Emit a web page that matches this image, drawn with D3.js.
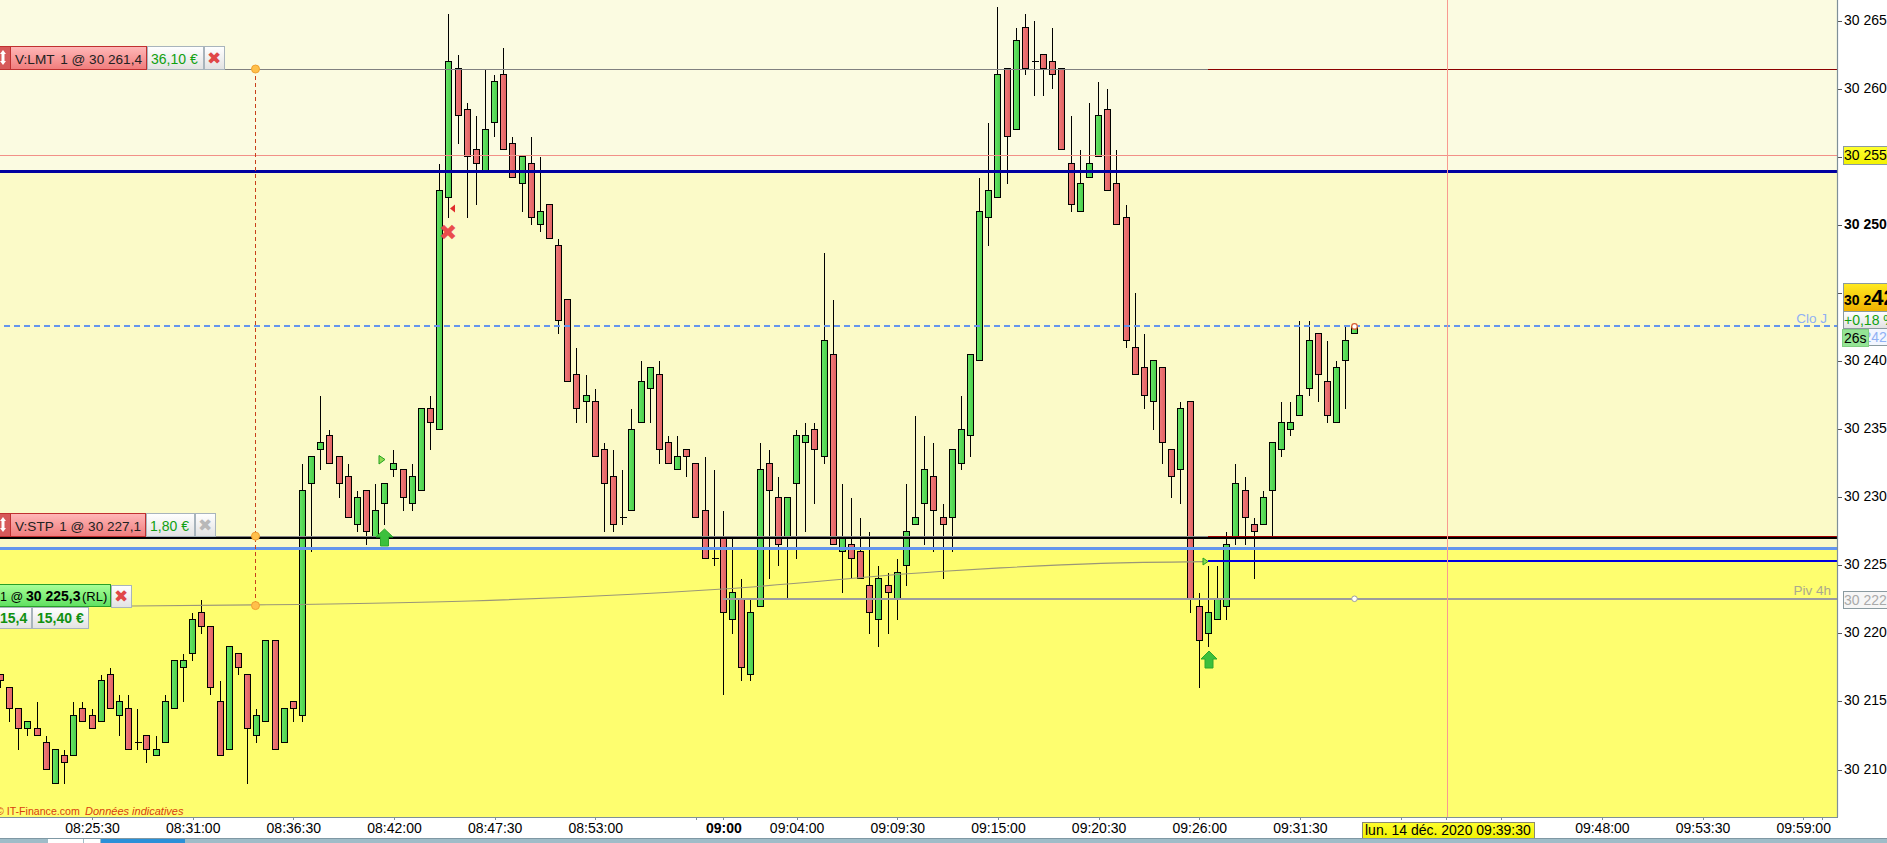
<!DOCTYPE html>
<html><head><meta charset="utf-8">
<script src="https://cdn.jsdelivr.net/npm/d3@7/dist/d3.min.js"></script>
<style>
html,body{margin:0;padding:0;background:#fff;overflow:hidden}
svg{display:block}
text{font-family:"Liberation Sans",Arial,sans-serif;font-size:14px}
</style></head><body><svg id="c" width="1887" height="843"></svg>
<script>
const W=1887,H=843,axisX=1837,axisY=817;
// Candles, one every 30 s starting 08:20:30
const firstBar="08:20:30";
const barStepSeconds=30;
const opens=[30217,30216,30214.5,30213,30213,30212,30209,30211,30211,30214.5,30214,30213.5,30217,30214,30214.5,30212,30212.5,30211,30212,30214.5,30217.5,30218.5,30221.5,30220.5,30215,30211.5,30218.5,30217,30212.5,30213.5,30219.5,30212,30215,30214,30231,30233.5,30234.5,30233,30231.5,30228,30230.5,30227,30229.5,30232,30232,30229.5,30230.5,30236.5,30235,30252,30261.5,30258.5,30255.5,30254,30257.5,30261,30256,30253,30254.5,30250,30251.5,30248.5,30244.5,30239,30237,30237,30233.5,30231.5,30228.5,30229,30235.5,30238,30239,30234,30232,30233.5,30232.5,30229,30225.5,30227,30221,30222.5,30217,30222,30232.5,30230,30227,30231,30234,30235,30233,30240.5,30226,30226.5,30226,30223.5,30221,30223.5,30222.5,30225,30228,30229.5,30231.5,30228.5,30228.5,30232.5,30234.5,30240,30250.5,30252,30261.5,30257,30264.5,30262,30262.5,30262,30261.5,30254.5,30251,30253.5,30255,30258.5,30253,30250.5,30241,30239.5,30237,30239.5,30233.5,30232,30237,30222,30220,30221,30222,30227,30230.5,30228,30228,30230.5,30233.5,30235,30236,30238,30242,30238.5,30235.5,30240,30242];
const closes=[30216.5,30214.5,30213,30213.5,30212.5,30210,30211.5,30210.5,30214,30213.5,30213,30216.5,30214.5,30215,30211.5,30212,30211.5,30211.5,30215,30218,30218,30221,30220.5,30216,30211,30219,30217.5,30213,30214,30219.5,30211.5,30214.5,30214.5,30230.5,30233,30234,30232.5,30231,30228.5,30230,30227.5,30229,30231,30232.5,30230,30231.5,30236.5,30235.5,30252.5,30262,30258,30255,30254.5,30257,30260.5,30255.5,30253.5,30255,30250.5,30251,30249,30243,30238.5,30236.5,30237.5,30233,30231,30228,30228.5,30235,30238.5,30239.5,30233.5,30232.5,30233,30233,30228.5,30225.5,30225.5,30221.5,30223,30217.5,30221.5,30232,30230.5,30226.5,30230,30234.5,30234.5,30233.5,30241.5,30226.5,30227,30225.5,30224,30221.5,30224,30223,30224.5,30227.5,30228.5,30232,30229,30228,30233.5,30235,30240.5,30251,30252.5,30261,30256.5,30263.5,30261.5,30262,30261.5,30261,30255.5,30251.5,30253,30254.5,30258,30252.5,30250,30241.5,30239,30237.5,30240,30234,30231.5,30236.5,30222.5,30219.5,30221.5,30222.5,30226.5,30231,30228.5,30227.5,30230,30234,30235.5,30235.5,30237.5,30241.5,30239,30236,30239.5,30241.5,30242.5];
const highs=[30217,30216,30214.5,30213.5,30215,30212.5,30211.5,30211.5,30215,30215,30214.5,30217,30217.5,30215.5,30215.5,30214.5,30212.5,30212.5,30215.5,30218,30218.5,30221.5,30222.5,30220.5,30216.5,30219,30218.5,30217,30214.5,30219.5,30219.5,30214.5,30215,30232.5,30233,30237.5,30235,30233,30232.5,30230.5,30230.5,30231,30231,30233.5,30232,30232.5,30236.5,30237.5,30254.5,30265.5,30262.5,30259,30258,30261.5,30261,30263,30256.5,30255,30256.5,30255,30251.5,30249,30244.5,30241,30239,30238,30234,30233.5,30232,30236.5,30240,30239.5,30240,30234.5,30234.5,30233.5,30232.5,30233,30232,30229,30227,30224,30222.5,30234,30233.5,30231.5,30230,30235,30235.5,30235.5,30248,30244.5,30231,30230,30228.5,30227.5,30225,30224.5,30225.5,30231,30236,30234.5,30234,30229.5,30233.5,30237.5,30240.5,30253.5,30257.5,30266,30261.5,30264.5,30265.5,30265,30262.5,30264.5,30261.5,30258,30255.5,30259,30260.5,30260,30255.5,30251.5,30245,30242,30240,30239.5,30233.5,30237,30237,30223,30225,30225,30227.5,30232.5,30231.5,30228.5,30230.5,30234,30237,30237,30243,30243,30242,30241.5,30240,30242.5,30242.5];
const lows=[30216,30213.5,30211.5,30212.5,30212.5,30210,30209,30209,30211,30213.5,30213,30213.5,30214.5,30212.5,30211.5,30211.5,30210.5,30211,30212,30214.5,30215,30218,30220,30215.5,30211,30211.5,30217,30209,30212,30213.5,30211.5,30212,30213.5,30213.5,30226,30232,30232.5,30230,30228.5,30227.5,30226.5,30227,30228,30231.5,30229,30229,30230.5,30233.5,30235,30250.5,30256,30250.5,30251.5,30254,30256.5,30255.5,30253.5,30251,30250,30249.5,30249,30242,30238.5,30235.5,30235.5,30233,30227.5,30227.5,30228,30229,30235.5,30235.5,30232.5,30232.5,30232,30231.5,30228.5,30225.5,30225,30215.5,30220,30216.5,30216.5,30222,30224,30225,30222.5,30225.5,30227.5,30229.5,30232.5,30226.5,30223,30224,30224,30220,30219,30220,30221,30223.5,30228,30226.5,30226,30224,30226,30232,30233,30240,30248.5,30252,30253,30257,30261,30259.5,30259.5,30260,30255.5,30251,30251,30253.5,30255,30252.5,30250,30241,30239,30236.5,30235,30232.5,30230,30229.5,30221.5,30216,30219,30221,30221,30226.5,30226.5,30224,30228,30227,30233,30234.5,30236,30237.5,30237,30235.5,30235.5,30236.5,30242];
// Price levels
const levelLimit=30261.4, levelRed=30255.07, levelBlue=30253.9, levelClose=30242.5, levelStop=30227.1, levelLightBlue=30226.25, levelEntry=30225.3, levelPivot=30222.5;
// Drawn entry curve
const entryTimes=["08:27:40","08:34:26","08:46:11","09:00:00","09:11:50","09:15:10","09:20:40","09:26:15"];
const entryPrices=[30221.97,30222.05,30222.34,30223.22,30224.5,30224.77,30225.1,30225.23];
// Axes
const yTickValues=[30265,30260,30255,30250,30245,30240,30235,30230,30225,30220,30215,30210];
const xTickTimes=["08:25:30","08:31:00","08:36:30","08:42:00","08:47:30","08:53:00","08:58:30","09:00:00","09:04:00","09:09:30","09:15:00","09:20:30","09:26:00","09:31:30","09:37:00","09:39:30","09:42:30","09:48:00","09:53:30","09:59:00","10:00:00"];
const xUnlabelled=["08:58:30","09:37:00","09:39:30","09:42:30","10:00:00"];

const t=s=>{const [h,m,sec]=s.split(":").map(Number);return new Date(2020,11,14,h,m,sec);};
const barTimes=opens.map((_,i)=>d3.timeSecond.offset(t(firstBar),i*barStepSeconds));
const x=d3.scaleTime().domain([t("08:20:30"),t("09:59:00")]).range([0,1802.7]);
const y=d3.scaleLinear().domain([30265,30210]).range([20,769]);
const X=d=>Math.round(x(d))+0.5, Y=v=>Math.round(y(v))+0.5;

const svg=d3.select("#c");
const defs=svg.append("defs");
function grad(id,a,b){const g=defs.append("linearGradient").attr("id",id).attr("x1",0).attr("x2",0).attr("y1",0).attr("y2",1);
 g.append("stop").attr("offset",0).attr("stop-color",a);g.append("stop").attr("offset",1).attr("stop-color",b);}
grad("gRed","#ffb8b8","#f07c7c");grad("gGreen","#a8ff98","#5fe060");grad("gWhite","#ffffff","#e2e2e2");
grad("gCur","#ffea20","#f0b000");grad("gYel","#ffff30","#f2f200");
const gc=defs.append("linearGradient").attr("id","gBodyG").attr("x1",0).attr("x2",1).attr("y1",0).attr("y2",0);
gc.append("stop").attr("offset",0).attr("stop-color","#68e668");gc.append("stop").attr("offset",1).attr("stop-color","#48cc48");
const gr=defs.append("linearGradient").attr("id","gBodyR").attr("x1",0).attr("x2",1).attr("y1",0).attr("y2",0);
gr.append("stop").attr("offset",0).attr("stop-color","#f07c7c");gr.append("stop").attr("offset",1).attr("stop-color","#e06060");

// Page background and zones
svg.append("rect").attr("width",W).attr("height",H).attr("fill","#fff");
svg.append("rect").attr("width",axisX).attr("height",Y(levelBlue)).attr("fill","#fbfbe1");
svg.append("rect").attr("y",Y(levelBlue)).attr("width",axisX).attr("height",Y(levelLightBlue)-Y(levelBlue)).attr("fill","#fbfac8");
svg.append("rect").attr("y",Y(levelLightBlue)).attr("width",axisX).attr("height",axisY-Y(levelLightBlue)).attr("fill","#fefe6f");

// Candles
const bars=svg.append("g").selectAll("g").data(opens.map((o,i)=>({o,c:closes[i],h:highs[i],l:lows[i],t:barTimes[i]}))).join("g");
bars.append("line").attr("x1",d=>X(d.t)).attr("x2",d=>X(d.t)).attr("y1",d=>Y(d.h)).attr("y2",d=>Y(d.l))
 .attr("stroke","#000").attr("stroke-width",1).attr("shape-rendering","crispEdges");
bars.filter(d=>d.o!==d.c).append("rect").attr("x",d=>X(d.t)-3).attr("width",6)
 .attr("y",d=>Y(Math.max(d.o,d.c))).attr("height",d=>Y(Math.min(d.o,d.c))-Y(Math.max(d.o,d.c)))
 .attr("fill",d=>d.c>d.o?"url(#gBodyG)":"url(#gBodyR)").attr("stroke","#000").attr("stroke-width",1.1).attr("shape-rendering","crispEdges");
bars.filter(d=>d.o===d.c).append("line").attr("x1",d=>X(d.t)-3).attr("x2",d=>X(d.t)+4).attr("y1",d=>Y(d.o)).attr("y2",d=>Y(d.o))
 .attr("stroke","#000").attr("shape-rendering","crispEdges");

// Horizontal levels
const hl=(x1,x2,v,col,w,dash,dy=0)=>svg.append("line").attr("x1",x1).attr("x2",x2).attr("y1",Y(v)+dy).attr("y2",Y(v)+dy)
 .attr("stroke",col).attr("stroke-width",w).attr("stroke-dasharray",dash||null).attr("shape-rendering","crispEdges");
const splitX=1208;
hl(225,splitX,levelLimit,"#808080",1);
hl(splitX,axisX,levelLimit,"#8b0000",1);
hl(0,axisX,levelRed,"#f29088",1);
hl(0,axisX,levelBlue,"#0000a0",3);
hl(4,axisX,levelClose,"#6495ed",2,"6 4",-0.5);
hl(0,axisX,levelStop,"#000",2,null,1);
hl(0,splitX,levelStop,"#8a8a8a",1,null,-0.5);
hl(splitX,axisX,levelStop,"#a00000",1,null,-0.5);
hl(0,axisX,levelLightBlue,"#6495ed",3);
hl(splitX,axisX,levelEntry,"#0000e0",2,null,-0.5);
hl(x(t("09:00:00")),axisX,levelPivot,"#9c9c9c",2,null,-0.5);
// Entry curve
const line=d3.line().x((d,i)=>x(t(entryTimes[i]))).y(d=>y(d)).curve(d3.curveMonotoneX);
svg.append("path").attr("d",line(entryPrices)).attr("fill","none").attr("stroke","#9a9678").attr("stroke-width",1.1);

// Crosshair
const crossX=X(t("09:39:30"))+1;
svg.append("line").attr("x1",crossX).attr("x2",crossX).attr("y1",0).attr("y2",axisY).attr("stroke","#f89a90").attr("stroke-width",1).attr("shape-rendering","crispEdges");
// Vertical dashed link
const linkX=255.5;
svg.append("line").attr("x1",linkX).attr("x2",linkX).attr("y1",y(levelLimit)).attr("y2",y(30222)).attr("stroke","#c8401a").attr("stroke-width",1).attr("stroke-dasharray","4 3").attr("shape-rendering","crispEdges");
[levelLimit,levelStop,30222].forEach(v=>svg.append("circle").attr("cx",linkX).attr("cy",y(v)).attr("r",4).attr("fill","#ffc04a").attr("stroke","#f0a030").attr("stroke-width",1));

// Level captions
const txt=(px,py,s,o={})=>svg.append("text").attr("x",px).attr("y",py).text(s)
 .attr("fill",o.fill||"#000").attr("font-weight",o.bold?"bold":null).attr("font-style",o.italic?"italic":null)
 .attr("text-anchor",o.anchor||"start").style("font-size",(o.size||14)+"px").style("font-family",o.family||null);
txt(1827,323,"Clo J",{fill:"#8fb0f4",anchor:"end",size:13.5});
txt(1831,595,"Piv 4h",{fill:"#aaa98e",anchor:"end",size:13.5});
txt(-4,815,"© IT-Finance.com",{fill:"#d8400e",size:10.6});
txt(85,815,"Données indicatives",{fill:"#d8400e",size:11,italic:true});

// Markers
const mark=(d,col,stroke)=>svg.append("path").attr("d",d).attr("fill",col).attr("stroke",stroke||"none");
txt(448,240,"✖",{fill:"#ea4c4c",anchor:"middle",size:22,family:"DejaVu Sans"});
mark("M450,208.5L455,204.5V212.5Z","#e02c2c");
mark("M379,455.5L385,459.5L379,464Z","#8fdc50","#22a022");
mark("M384.5,529L393,537H388.5V546H380.5V537H376Z","#3cc03c","#2ca82c");
mark("M1209,651L1217,659H1213V668H1205V659H1201Z","#3cc03c","#2ca82c");
mark("M1203,558L1208,561.5L1203,565Z","#8fdc50","#22a022");
svg.append("circle").attr("cx",X(barTimes[barTimes.length-1])).attr("cy",y(levelClose)).attr("r",2.8).attr("fill","#fff").attr("stroke","#d85a30").attr("stroke-width",1.2);
svg.append("circle").attr("cx",X(barTimes[barTimes.length-1])).attr("cy",y(levelPivot)).attr("r",2.8).attr("fill","#fff").attr("stroke","#9c9c9c").attr("stroke-width",1);

// Order tags
function box(x0,y0,w,h,fill,stroke){return svg.append("rect").attr("x",x0+.5).attr("y",y0+.5).attr("width",w).attr("height",h).attr("fill",fill).attr("stroke",stroke).attr("shape-rendering","crispEdges");}
function handle(y0){
 box(-1,y0,11,23,"#d65a5a","#c03030");
 mark(`M3,${y0+4}L6,${y0+8}H4.5V${y0+15}H6L3,${y0+19}L0,${y0+15}H1.5V${y0+8}H0Z`,"#fff");
}
box(10,46,136,23,"url(#gRed)","#c03030");handle(46);
txt(15,64,"V:LMT",{size:13.6,fill:"#222"});txt(142,64,"1 @ 30 261,4",{size:13.6,fill:"#222",anchor:"end"});
box(147,46,56,23,"url(#gWhite)","#a8b4bc");txt(151,64,"36,10 €",{fill:"#10a010"});
box(204,46,20,23,"url(#gWhite)","#a8b4bc");txt(214,64,"✖",{fill:"#e04848",anchor:"middle",size:17,family:"DejaVu Sans"});
box(10,513,135,23,"url(#gRed)","#c03030");handle(513);
txt(15,531,"V:STP",{size:13.6,fill:"#222"});txt(141,531,"1 @ 30 227,1",{size:13.6,fill:"#222",anchor:"end"});
box(146,513,48,23,"url(#gWhite)","#a8b4bc");txt(150,531,"1,80 €",{fill:"#10a010"});
box(195,513,20,23,"url(#gWhite)","#a8b4bc");txt(205,531,"✖",{fill:"#b8b8b8",anchor:"middle",size:17,family:"DejaVu Sans"});
box(-2,584,112,22,"url(#gGreen)","#28a028");
txt(0,601,"1 @",{size:12.5});txt(26,601,"30 225,3",{bold:true});txt(82,601,"(RL)",{size:13});
box(111,585,20,22,"url(#gWhite)","#a8b4bc");txt(121,602,"✖",{fill:"#e04848",anchor:"middle",size:17,family:"DejaVu Sans"});
box(-2,607,33,21,"url(#gWhite)","#a8b4bc");txt(0,623,"15,4",{fill:"#109010",bold:true});
box(32,607,56,21,"url(#gWhite)","#a8b4bc");txt(37,623,"15,40 €",{fill:"#109010",bold:true});

// Right axis
svg.append("rect").attr("x",axisX).attr("width",W-axisX).attr("height",H).attr("fill","#fff");
const ay=d3.axisRight(y).tickValues(yTickValues).tickSize(5).tickPadding(2)
 .tickFormat(v=>"30 "+String(v).slice(2));
const gy=svg.append("g").attr("transform",`translate(${axisX},0.5)`).call(ay);
gy.select(".domain").remove();
gy.selectAll("line").attr("stroke","#555").attr("shape-rendering","crispEdges");
gy.selectAll("text").attr("fill","#000").attr("dy","0.25em").style("font-size","14px").attr("font-weight",d=>d===30250?"bold":null);
svg.append("line").attr("x1",axisX+.5).attr("x2",axisX+.5).attr("y1",0).attr("y2",axisY).attr("stroke","#7f8f98").attr("stroke-width",1.2);
// Right-axis price tags
box(1843,146,50,18,"url(#gYel)","#8a9aa0");txt(1844,160,"30 255");
box(1843,283,50,28,"url(#gCur)","#8a9aa0");
const cur=svg.append("text").attr("x",1844).attr("y",305).attr("font-weight","bold");
cur.append("tspan").text("30 2");cur.append("tspan").style("font-size","22px").text("42,5");
box(1843,311,50,17,"url(#gWhite)","#8a9aa0");txt(1844,325,"+0,18 %",{fill:"#10a010"});
box(1843,328,50,17,"#f2f6ff","#8a9aa0");txt(1844,342,"30 242",{fill:"#8fb0f4"});
svg.append("rect").attr("x",1842.5).attr("y",329.5).attr("width",26).attr("height",17).attr("fill","#94e494").attr("stroke","#80d080");
txt(1844,343,"26s");
box(1843,591,50,17,"#f6f6f6","#8a9aa0");txt(1844,605,"30 222",{fill:"#aaa"});

// Bottom axis
svg.append("rect").attr("y",axisY).attr("width",axisX+1).attr("height",H-axisY).attr("fill","#fff");
const ax=d3.axisBottom(x).tickValues(xTickTimes.map(t)).tickSize(3).tickPadding(3)
 .tickFormat(d=>{const s=d3.timeFormat("%H:%M:%S")(d);return xUnlabelled.includes(s)?"":(s==="09:00:00"?"09:00":s);});
const gx=svg.append("g").attr("transform",`translate(0.5,${axisY})`).call(ax);
gx.select(".domain").remove();
gx.selectAll("line").attr("stroke","#7f8f98").attr("shape-rendering","crispEdges");
gx.selectAll("text").attr("fill","#000").style("font-size","14px").attr("y",6)
 .attr("font-weight",d=>d3.timeFormat("%H:%M:%S")(d)==="09:00:00"?"bold":null);
svg.append("line").attr("x1",0).attr("x2",axisX+1).attr("y1",axisY+.5).attr("y2",axisY+.5).attr("stroke","#7f8f98").attr("stroke-width",1.2);
box(1362,822,172,16,"url(#gYel)","#8a8a70");
txt(1365,835,"lun. 14 déc. 2020 09:39:30");

// Window strip
svg.append("rect").attr("y",838).attr("width",W).attr("height",5).attr("fill","#9fbcc8");
svg.append("rect").attr("y",838).attr("width",W).attr("height",1).attr("fill","#7f98a4");
svg.append("rect").attr("x",48).attr("y",839).attr("width",35).attr("height",4).attr("fill","#fff");
svg.append("rect").attr("x",84).attr("y",839).attr("width",16).attr("height",4).attr("fill","#fff");
svg.append("rect").attr("x",101).attr("y",839).attr("width",84).attr("height",4).attr("fill","#2a90d8");
</script></body></html>
